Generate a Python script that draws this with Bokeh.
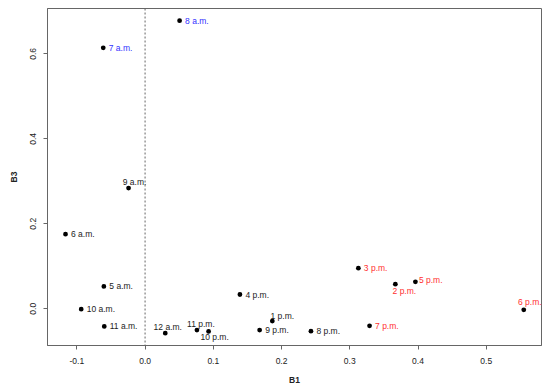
from bokeh.plotting import figure
from bokeh.models import ColumnDataSource, FixedTicker, NumeralTickFormatter, Span, Range1d
from bokeh.embed import file_html
from bokeh.resources import INLINE

# ---- data ----
labels = ["8 a.m.", "7 a.m.", "9 a.m.", "6 a.m.", "5 a.m.", "10 a.m.", "11 a.m.",
          "12 a.m.", "11 p.m.", "10 p.m.", "4 p.m.", "9 p.m.", "1 p.m.", "8 p.m.",
          "7 p.m.", "3 p.m.", "2 p.m.", "5 p.m.", "6 p.m."]
b1 = [0.0506, -0.0613, -0.0242, -0.1166, -0.0604, -0.0936, -0.0598,
      0.0296, 0.0760, 0.0931, 0.1390, 0.1679, 0.1865, 0.2431,
      0.3290, 0.3126, 0.3668, 0.3962, 0.5550]
b3 = [0.678, 0.614, 0.284, 0.1756, 0.0525, -0.001, -0.0416,
      -0.0574, -0.050, -0.0534, 0.0336, -0.050, -0.029, -0.0527,
      -0.040, 0.0955, 0.0579, 0.0635, -0.0024]
group = ["morning", "morning", "other", "other", "other", "other", "other",
         "other", "other", "other", "other", "other", "other", "other",
         "evening", "evening", "evening", "evening", "evening"]
x_ticks = [-0.1, 0.0, 0.1, 0.2, 0.3, 0.4, 0.5]
y_ticks = [0.0, 0.2, 0.4, 0.6]

# ---- styling ----
group_colors = {"morning": "#3232ff", "evening": "#ff3030", "other": "#222222"}
# label placement: (align, dx px, dy px; dy positive = up)
placement = {
    "9 a.m.": ("center", 6, 6.5),
    "12 a.m.": ("center", 2.5, 6),
    "11 p.m.": ("center", 4, 6),
    "10 p.m.": ("center", 6, -6),
    "1 p.m.": ("center", 10, 5.5),
    "2 p.m.": ("center", 9, -6.5),
    "6 p.m.": ("center", 6, 8),
    "5 p.m.": ("left", 3.5, 2),
}
FONT = "Liberation Sans"

src_pts = ColumnDataSource(dict(x=b1, y=b3))
lab = dict(x=[], y=[], text=[], color=[], align=[], xo=[], yo=[])
for name, xv, yv, g in zip(labels, b1, b3, group):
    al, xo, yo = placement.get(name, ("left", 5.5, 0))
    lab["x"].append(xv); lab["y"].append(yv); lab["text"].append(name)
    lab["color"].append(group_colors[g]); lab["align"].append(al)
    lab["xo"].append(xo); lab["yo"].append(-yo)
src_lab = ColumnDataSource(lab)

p = figure(width=542, height=388, output_backend="svg", toolbar_location=None,
           x_range=Range1d(-0.143, 0.581), y_range=Range1d(-0.0864, 0.7066),
           min_border_left=47, min_border_right=1, min_border_top=8, min_border_bottom=43)
p.grid.visible = False
p.outline_line_color = "#666666"
p.outline_line_width = 1

p.add_layout(Span(location=0, dimension="height", line_color="#666666",
                  line_dash="2 2", line_width=1))

p.scatter("x", "y", source=src_pts, size=4.8, fill_color="black", line_color=None)
p.text("x", "y", text="text", source=src_lab, text_color="color",
       text_align="align", text_baseline="middle", x_offset="xo", y_offset="yo",
       text_font={"value": FONT}, text_font_size={"value": "8.5px"})

for ax, ticks in ((p.xaxis[0], x_ticks), (p.yaxis[0], y_ticks)):
    ax.ticker = FixedTicker(ticks=ticks)
    ax.formatter = NumeralTickFormatter(format="0.0")
    ax.axis_line_color = "#666666"
    ax.major_tick_line_color = "#666666"
    ax.major_tick_out = 4
    ax.major_tick_in = 0
    ax.minor_tick_line_color = None
    ax.major_label_text_font = FONT
    ax.major_label_text_font_size = "8.5px"
    ax.major_label_text_color = "#222222"
    ax.axis_label_text_font = FONT
    ax.axis_label_text_font_size = "8.5px"
    ax.axis_label_text_font_style = "bold"
    ax.axis_label_text_color = "#222222"

p.xaxis.axis_label = "B1"
p.yaxis.axis_label = "B3"
p.yaxis.major_label_orientation = "vertical"
p.xaxis.major_label_standoff = 8
p.xaxis.axis_label_standoff = 8
p.yaxis.major_label_standoff = 7
p.yaxis.axis_label_standoff = 9

open("out.html", "w").write(file_html(p, INLINE))
